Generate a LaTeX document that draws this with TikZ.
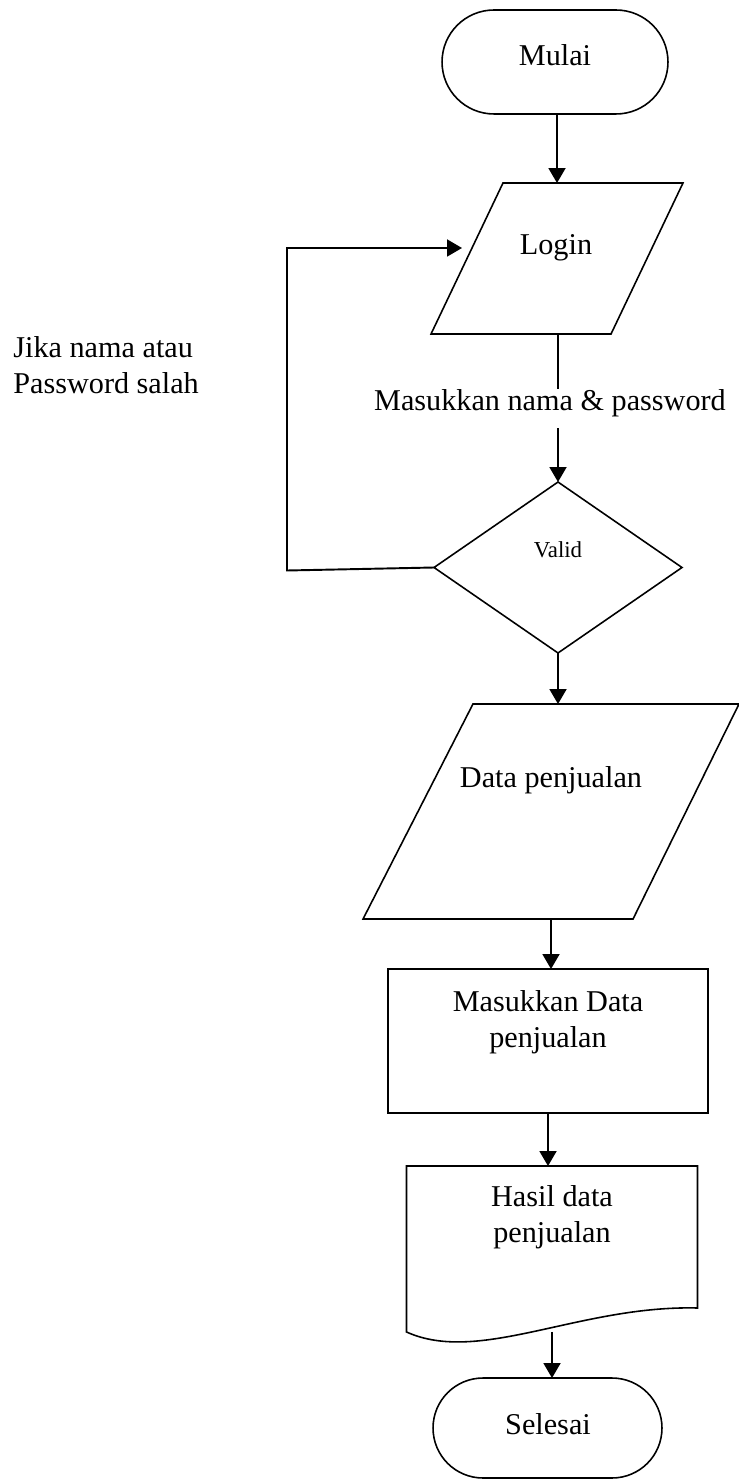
\documentclass[tikz,border=0pt]{standalone}
\usepackage{fontspec}
\setmainfont{Liberation Serif}
\usetikzlibrary{arrows.meta,shapes.geometric}
\tikzset{
	outline/.style={draw, line width=0.9pt, inner sep=0pt, outer sep=0pt},
	frame/.style={inner sep=0pt, outer sep=0pt},
	terminal/.style={outline, rectangle, rounded corners=#1},
	decision/.style={outline, diamond},
	process/.style={outline, rectangle},
	txt/.style={font=\fontsize{17.2}{20.5}\selectfont, align=center, inner sep=0pt},
	smalltxt/.style={font=\fontsize{13}{15}\selectfont, inner sep=0pt},
	link/.style={line width=1.1pt},
	arr/.style={link, -{Triangle[length=0.3cm, width=0.34cm]}}
}
\begin{document}
\begin{tikzpicture}[x=0.02cm, y=-0.02cm]
			%%%%% START %%%%%
			\useasboundingbox (0, 0) rectangle (739, 1479);
			
			\node[terminal=1.04cm, minimum width=4.52cm, minimum height=2.08cm] (mulai) at (555, 62) {};
			\node[txt] (mulaiText) at (555, 55) {Mulai};
			
			\node[frame, minimum width=5.04cm, minimum height=3.02cm] (login) at (557, 258.5) {};
			\draw[outline] (login.south west) -- ++(180, 0) -- (login.north east) -- ++(-180, 0) -- cycle;
			\node[txt] (loginText) at (556, 248) {Login};
			
			\node[txt] (masuk) at (550, 403) {Masukkan nama \& password};
			
			\node[decision, minimum width=4.96cm, minimum height=3.42cm] (valid) at (558, 567.5) {};
			\node[smalltxt] (validText) at (558, 550) {Valid};
			
			\node[txt, anchor=west, align=left] (salah) at (13, 365) {Jika nama atau\\Password salah};
			\coordinate (loopIn) at (462, 248);
			
			\node[frame, minimum width=7.52cm, minimum height=4.3cm] (data) at (551, 811.5) {};
			\draw[outline] (data.south west) -- ++(270, 0) -- (data.north east) -- ++(-266, 0) -- cycle;
			\node[txt] (dataText) at (551, 780) {Data penjualan};
			
			\node[process, minimum width=6.4cm, minimum height=2.88cm] (input) at (548, 1041) {};
			\node[txt] (inputText) at (548, 1022) {Masukkan Data\\penjualan};
			
			\node[frame, minimum width=5.82cm, minimum height=3.32cm] (hasil) at (552, 1249) {};
			\draw[outline] (hasil.north west) -- (hasil.north east) -- ([yshift=0.48cm]hasil.south east) .. controls +(-118, -3) and +(73, 33) .. (hasil.south west) -- cycle;
			\node[txt] (hasilText) at (552, 1217) {Hasil data\\penjualan};
			
			\node[terminal=1cm, minimum width=4.58cm, minimum height=2cm] (selesai) at (547.5, 1428) {};
			\node[txt] (selesaiText) at (548, 1424) {Selesai};
			
			% arrows
			\draw[arr] (mulai.south -| login.north) -- (login.north);
			\draw[link] (login.south -| valid.north) -- (valid.north |- masuk.north);
			\draw[arr] (valid.north |- masuk.south) ++(0, 11) -- (valid.north);
			\draw[arr] (valid.west) -- ++(-147, 3) |- (loopIn);
			\draw[arr] (valid.south) -- (valid.south |- data.north);
			\draw[arr] (data.south) -- (data.south |- input.north);
			\draw[arr] (input.south) -- (input.south |- hasil.north);
			\draw[arr] (hasil.south) -- (hasil.south |- selesai.north);
			
			%%%%% END %%%%%
\end{tikzpicture}
\end{document}
